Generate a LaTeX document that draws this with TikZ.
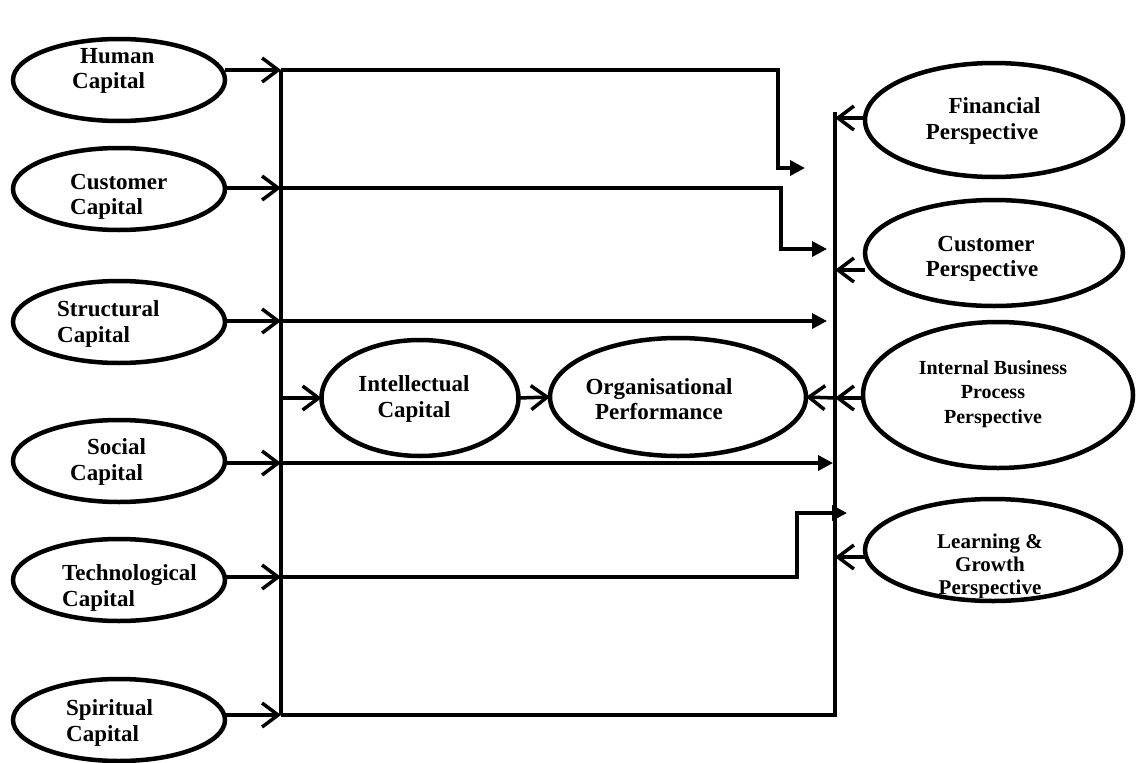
\documentclass[tikz,border=0pt]{standalone}
\usepackage{fontspec}
\setmainfont{Liberation Serif}
\usetikzlibrary{arrows.meta,shapes.geometric}
\begin{document}
\begin{tikzpicture}[x=1pt,y=-1pt,
  oval/.style={draw, ellipse, line width=4.5pt, inner sep=0pt, outer sep=0pt},
  lab/.style={font=\bfseries\fontsize{23}{25.5}\selectfont, inner sep=0pt},
  conn/.style={line width=3.5pt},
  openhead/.style={conn, -{Straight Barb[length=16pt,width=24pt]}},
  solidhead/.style={conn, -{Triangle[length=15pt,width=15pt]}}]
\useasboundingbox (0,0) rectangle (1136,763);

% capital components (left column)
\node[oval, minimum width=212pt, minimum height=82pt] (hc)  at (119,80)  {};
\node[oval, minimum width=212pt, minimum height=82pt] (cc)  at (119,189) {};
\node[oval, minimum width=212pt, minimum height=82pt] (sc)  at (119,322) {};
\node[oval, minimum width=212pt, minimum height=82pt] (soc) at (119,461) {};
\node[oval, minimum width=212pt, minimum height=82pt] (tc)  at (119,580) {};
\node[oval, minimum width=212pt, minimum height=82pt] (spc) at (119,720) {};

\node[lab, align=left, anchor=west] (hct)  at (72,71)  {\hspace*{8pt}Human\\Capital};
\node[lab, align=left, anchor=west] (cct)  at (70,197) {Customer\\Capital};
\node[lab, align=left, anchor=west] (sct)  at (57,324) {Structural\\Capital};
\node[lab, align=left, anchor=west] (soct) at (70,462) {\hspace*{17pt}Social\\Capital};
\node[lab, align=left, anchor=west] (tct)  at (62,588) {Technological\\Capital};
\node[lab, align=left, anchor=west] (spct) at (66,723) {Spiritual\\Capital};

% central constructs
\node[oval, minimum width=197pt, minimum height=116pt] (ic) at (420,398) {};
\node[oval, minimum width=256pt, minimum height=118pt] (op) at (678,397) {};
\node[lab, align=center] (ict) at (414,399) {Intellectual\\Capital};
\node[lab, align=center] (opt) at (659,399) {Organisational\\Performance};

% balanced scorecard perspectives (right column)
\node[oval, minimum width=258pt, minimum height=114pt] (fp)  at (994,120) {};
\node[oval, minimum width=258pt, minimum height=106pt] (cp)  at (994,253) {};
\node[oval, minimum width=270pt, minimum height=146pt] (ibp) at (998,395) {};
\node[oval, minimum width=256pt, minimum height=102pt] (lg)  at (993,550) {};

\node[lab, align=center] (fpt) at (982,121) {\hspace*{25pt}Financial\\Perspective};
\begin{scope}
  \clip (880,200) rectangle (1100,281);
  \node[lab, align=center] (cpt) at (982,259) {\hspace*{8pt}Customer\\Perspective};
\end{scope}
\node[lab, align=center, font=\bfseries\fontsize{20}{24.5}\selectfont] (ibpt) at (993,394)
  {Internal Business\\Process\\Perspective};
\begin{scope}
  \clip (880,500) rectangle (1100,597);
  \node[lab, align=center, font=\bfseries\fontsize{21}{23}\selectfont] (lgt) at (990,566)
    {Learning \&\\Growth\\Perspective};
\end{scope}

% collecting bus on the left
\coordinate (b1) at (281,70);
\coordinate (b2) at (281,188);
\coordinate (b3) at (281,321);
\coordinate (b4) at (281,398);
\coordinate (b5) at (281,463);
\coordinate (b6) at (281,577);
\coordinate (b7) at (281,715);
\draw[conn, line width=4pt] (b1) -- (b7);

\draw[openhead] (hc.east  |- b1) -- (b1);
\draw[openhead] (cc.east  |- b2) -- (b2);
\draw[openhead] (sc.east  |- b3) -- (b3);
\draw[openhead] (soc.east |- b5) -- (b5);
\draw[openhead] (tc.east  |- b6) -- (b6);
\draw[openhead] (spc.east |- b7) -- (b7);

% collecting bus on the right
\coordinate (r0) at (835,112);
\coordinate (r7) at (835,715);
\coordinate (rf) at (835,118);
\coordinate (rc) at (835,270);
\coordinate (ri) at (835,398);
\coordinate (rl) at (835,557);

% feeds from the left bus towards the right bus
\coordinate (e1) at (805,168);
\coordinate (e2) at (827,249);
\coordinate (e3) at (827,321);
\coordinate (e5) at (833,463);
\coordinate (e6) at (847,513);
\draw[solidhead] (b1) -- (778,70) |- (e1);
\draw[solidhead] (b2) -- (781,188) |- (e2);
\draw[solidhead] (b3) -- (e3);
\draw[solidhead] (b5) -- (e5);
\draw[solidhead] (b6) -- (797,577) |- (e6);
\draw[conn] (b7) -- (r7) -- (r0);

% intellectual capital to performance
\draw[openhead] (b4) -- (ic.west);
\draw[openhead] (ic.east) -- (op.west);

% perspectives into the right bus
\draw[openhead] (fp.west |- rf) -- (rf);
\draw[openhead] (cp.west |- rc) -- (rc);
\draw[openhead] (ibp.west |- ri) -- (ri);
\draw[openhead] (ri) -- (op.east);
\draw[openhead] (lg.west |- rl) -- (rl);
\end{tikzpicture}
\end{document}
